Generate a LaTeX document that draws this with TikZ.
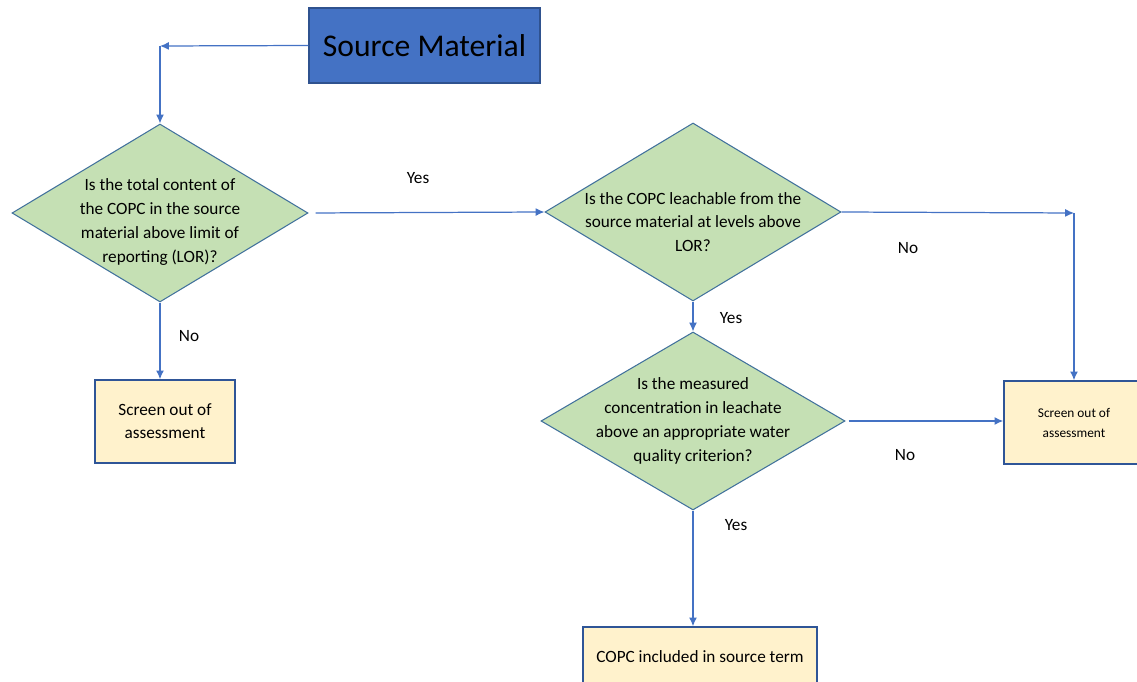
\documentclass[tikz,border=0pt]{standalone}
\usepackage{fontspec}
\setmainfont{Carlito}
\usetikzlibrary{shapes.geometric, arrows.meta}
\definecolor{srcblue}{HTML}{4472C4}
\definecolor{srcedge}{HTML}{2F528F}
\definecolor{decgreen}{HTML}{C5E0B4}
\definecolor{decedge}{HTML}{41719C}
\definecolor{outyellow}{HTML}{FFF2CC}
\definecolor{outedge}{HTML}{2F5597}
\definecolor{linkblue}{HTML}{4472C4}
\begin{document}
\begin{tikzpicture}[x=0.02cm, y=-0.02cm]
        	\tikzstyle{source}=[rectangle, draw=srcedge, fill=srcblue, line width=0.6pt, minimum width=231*0.02cm, minimum height=75*0.02cm, font=\fontsize{18}{20}\selectfont]
        	\tikzstyle{decision}=[diamond, draw=decedge, fill=decgreen, line width=0.6pt, inner sep=0pt, minimum width=296*0.02cm, minimum height=178*0.02cm]
        	\tikzstyle{question}=[align=center, font=\fontsize{9.8}{13.6}\selectfont]
        	\tikzstyle{outcome}=[rectangle, draw=outedge, fill=outyellow, line width=0.8pt, align=center, minimum width=140*0.02cm, minimum height=83*0.02cm, font=\fontsize{9.8}{13}\selectfont]
        	\tikzstyle{answer}=[font=\fontsize{9.8}{12}\selectfont]
        	\tikzstyle{arrow}=[draw=linkblue, line width=0.7pt, -{Latex[length=5pt, width=4.5pt]}]
        	\useasboundingbox (0,0) rectangle (1137,682);
        	% Source
        	\node at (424.5,45.5) [source] (src) {Source Material};
        	% Questions
        	\node at (160,213) [decision, label={[question, yshift=-9*0.02cm]center:Is the total content of\\the COPC in the source\\material above limit of\\reporting (LOR)?}] (q_total) {};
        	\node at (693,212) [decision, label={[question, yshift=-10*0.02cm]center:Is the COPC leachable from the\\source material at levels above\\LOR?}] (q_leach) {};
        	\node at (693,421) [decision, minimum width=304*0.02cm, label={[question]center:Is the measured\\concentration in leachate\\above an appropriate water\\quality criterion?}] (q_conc) {};
        	% Outcomes
        	\node at (165,421.5) [outcome] (out_left) {Screen out of\\assessment};
        	\node at (1074,422.5) [outcome, font=\fontsize{7.6}{11.4}\selectfont] (out_right) {Screen out of\\assessment};
        	\node at (700,657) [outcome, minimum width=234*0.02cm, minimum height=60*0.02cm] (incl) {COPC included in source term};
        	% Corners
        	\coordinate (c_src) at (160,46);
        	\coordinate (c_leach) at (1074,213);
        	%---------------------%
        	% Source -> Question 1
        	\draw [arrow] (src.west) -- (c_src);
        	\draw [arrow] (c_src) -- (q_total.north);
        	% Question 1
        	\draw [arrow, shorten <=7*0.02cm] (q_total.east) -- (q_leach.west);
        	\draw [arrow] (q_total.south) -- (q_total.south |- out_left.north);
        	% Question 2
        	\draw [arrow] (q_leach.east) -- (c_leach);
        	\draw [arrow] (c_leach) -- (out_right.north);
        	\draw [arrow] (q_leach.south) -- (q_conc.north);
        	% Question 3
        	\draw [arrow, shorten <=3*0.02cm] (q_conc.east) -- (q_conc.east -| out_right.west);
        	\draw [arrow] (q_conc.south) -- (q_conc.south |- incl.north);
        	% Answers
        	\node at (418,178) [answer] (yes_total) {Yes};
        	\node at (189,336) [answer] (no_total) {No};
        	\node at (908,248) [answer] (no_leach) {No};
        	\node at (731,318) [answer] (yes_leach) {Yes};
        	\node at (905,455) [answer] (no_conc) {No};
        	\node at (736,525) [answer] (yes_conc) {Yes};
        	%---------------------%
\end{tikzpicture}
\end{document}
